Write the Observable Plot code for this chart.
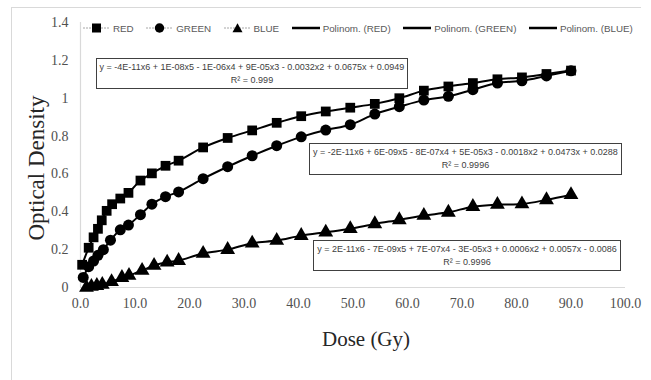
<!DOCTYPE html>
<html>
<head>
<meta charset="utf-8">
<script src="https://cdn.jsdelivr.net/npm/d3@7"></script>
<script src="https://cdn.jsdelivr.net/npm/@observablehq/plot@0.6"></script>
<style>
  html, body { margin: 0; padding: 0; background: #fff; }
  #wrap { position: relative; width: 651px; height: 380px; overflow: hidden; }
  #frame { position: absolute; left: 11px; top: 7px; width: 629px; height: 400px;
           border-top: 1px solid #d9d9d9; border-left: 1px solid #d9d9d9; }
  .legend { position: absolute; left: 83px; top: 22px; display: flex; align-items: center; gap: 12.5px;
            font-family: "Liberation Sans", Arial, sans-serif; font-size: 9.8px; color: #595959; white-space: nowrap; }
  .legend .item { display: flex; align-items: center; gap: 3px; }
  .eq { position: absolute; border: 1.5px solid #404040; background: #fff; box-sizing: border-box;
        font-family: "Liberation Sans", Arial, sans-serif; font-size: 9px; color: #404040;
        text-align: center; line-height: 12.5px; padding-top: 2px; white-space: nowrap; }
  .ytitle { position: absolute; left: 37px; top: 168px; transform: translate(-50%, -50%) rotate(-90deg);
            font-family: "Liberation Serif", "Times New Roman", serif; font-size: 23px; color: #262626; white-space: nowrap; }
  .xtitle { position: absolute; left: 366px; top: 339px; transform: translate(-50%, -50%);
            font-family: "Liberation Serif", "Times New Roman", serif; font-size: 21px; color: #262626; white-space: nowrap; }
  svg.chart text { font-family: "Liberation Serif", "Times New Roman", serif; }
</style>
</head>
<body>
<div id="wrap">
  <div id="frame"></div>
</div>
<script>
// ---- data ----
const seriesNames = ["RED", "GREEN", "BLUE"];
const redDose   = [0.3, 1.5, 2.4, 3.2, 3.9, 4.8, 5.8, 7.3, 8.8, 11, 13.1, 15.6, 18, 22.5, 27, 31.5, 36, 40.5, 45, 49.5, 54, 58.5, 63, 67.5, 72, 76.5, 81, 85.5, 90];
const redOD     = [0.12, 0.21, 0.265, 0.31, 0.355, 0.405, 0.44, 0.47, 0.50, 0.565, 0.603, 0.643, 0.67, 0.74, 0.79, 0.83, 0.87, 0.905, 0.93, 0.95, 0.97, 1.0, 1.04, 1.062, 1.08, 1.10, 1.11, 1.128, 1.146];
const greenDose = [0.5, 1.5, 2.4, 3.2, 4.2, 5.5, 7.3, 8.8, 11, 13.1, 15.6, 18, 22.5, 27, 31.5, 36, 40.5, 45, 49.5, 54, 58.5, 63, 67.5, 72, 76.5, 81, 85.5, 90];
const greenOD   = [0.053, 0.11, 0.14, 0.17, 0.2, 0.25, 0.305, 0.33, 0.385, 0.44, 0.48, 0.505, 0.575, 0.638, 0.696, 0.749, 0.796, 0.832, 0.86, 0.916, 0.955, 0.99, 1.01, 1.045, 1.08, 1.092, 1.118, 1.145];
const blueDose  = [1.1, 2, 3, 4, 5.7, 7.6, 8.9, 11.3, 13.5, 15.9, 18, 22.5, 27, 31.5, 36, 40.5, 45, 49.5, 54, 58.5, 63, 67.5, 72, 76.5, 81, 85.5, 90];
const blueOD    = [0.0, 0.005, 0.01, 0.016, 0.03, 0.052, 0.063, 0.09, 0.116, 0.133, 0.142, 0.18, 0.2, 0.234, 0.248, 0.274, 0.292, 0.31, 0.336, 0.357, 0.38, 0.397, 0.427, 0.438, 0.441, 0.463, 0.49];
const xTickValues = [0, 10, 20, 30, 40, 50, 60, 70, 80, 90, 100];
const xTickLabels = ["0.0", "10.0", "20.0", "30.0", "40.0", "50.0", "60.0", "70.0", "80.0", "90.0", "100.0"];
const yTickValues = [0, 0.2, 0.4, 0.6, 0.8, 1, 1.2, 1.4];
const yTickLabels = ["0", "0.2", "0.4", "0.6", "0.8", "1", "1.2", "1.4"];
const legendLabels = ["RED", "GREEN", "BLUE", "Polinom. (RED)", "Polinom. (GREEN)", "Polinom. (BLUE)"];
const eqLines = [
  ["y = -4E-11x6 + 1E-08x5 - 1E-06x4 + 9E-05x3 - 0.0032x2 + 0.0675x + 0.0949", "R² = 0.999"],
  ["y = -2E-11x6 + 6E-09x5 - 8E-07x4 + 5E-05x3 - 0.0018x2 + 0.0473x + 0.0288", "R² = 0.9996"],
  ["y = 2E-11x6 - 7E-09x5 + 7E-07x4 - 3E-05x3 + 0.0006x2 + 0.0057x - 0.0086", "R² = 0.9996"]
];
const xTitle = "Dose (Gy)";
const yTitle = "Optical Density";

// ---- build table ----
const doses = [redDose, greenDose, blueDose];
const ods = [redOD, greenOD, blueOD];
const rows = [];
seriesNames.forEach((s, k) => doses[k].forEach((d, i) => rows.push({series: s, dose: d, od: ods[k][i]})));

const symbolMap = {domain: seriesNames, range: ["square", "circle", "triangle"]};
const serif = "'Liberation Serif', 'Times New Roman', serif";

const chart = Plot.plot({
  className: "chart",
  width: 651, height: 380,
  marginLeft: 80, marginRight: 26, marginTop: 22, marginBottom: 93,
  style: {background: "transparent"},
  x: {domain: [0, 100]},
  y: {domain: [0, 1.4]},
  symbol: symbolMap,
  marks: [
    Plot.ruleY([0], {stroke: "#d9d9d9", strokeWidth: 1.2}),
    Plot.ruleX([0], {stroke: "#d9d9d9", strokeWidth: 1.2}),
    Plot.axisX({ticks: xTickValues, tickFormat: d => xTickLabels[xTickValues.indexOf(d)], tickSize: 0, tickPadding: 11,
                label: null, fontFamily: serif, fontSize: 14, fill: "#505050"}),
    Plot.axisY({ticks: yTickValues, tickFormat: d => yTickLabels[yTickValues.indexOf(d)], tickSize: 0, tickPadding: 12,
                label: null, fontFamily: serif, fontSize: 14, fill: "#505050"}),
    Plot.line(rows, {x: "dose", y: "od", z: "series", curve: "catmull-rom", stroke: "#000", strokeWidth: 2}),
    Plot.dot(rows, {x: "dose", y: "od", symbol: "series", fill: "#000", stroke: "none", r: 5.5})
  ]
});
const wrap = document.getElementById("wrap");
chart.style.position = "absolute";
chart.style.left = "0px";
chart.style.top = "0px";
wrap.appendChild(chart);

// ---- legend ----
const legend = document.createElement("div");
legend.className = "legend";
const markerSvg = {
  square: '<rect x="9" y="1.5" width="9" height="9" fill="#000"/>',
  circle: '<circle cx="13.5" cy="6" r="4.7" fill="#000"/>',
  triangle: '<path d="M13.5 1.3 L18.5 10.2 L8.5 10.2 Z" fill="#000"/>'
};
legendLabels.forEach((lab, i) => {
  const item = document.createElement("div");
  item.className = "item";
  let sw;
  if (i < 3) {
    const sym = symbolMap.range[i];
    sw = `<svg width="27" height="12"><line x1="0" y1="6" x2="27" y2="6" stroke="#a6a6a6" stroke-width="1" stroke-dasharray="2,1"/>${markerSvg[sym]}</svg>`;
  } else {
    sw = `<svg width="28" height="12"><line x1="0" y1="6" x2="28" y2="6" stroke="#000" stroke-width="2.5"/></svg>`;
  }
  item.innerHTML = sw + `<span>${lab}</span>`;
  legend.appendChild(item);
});
wrap.appendChild(legend);

// ---- equation boxes ----
const eqBoxes = [
  {left: 96, top: 58, width: 312, height: 31},
  {left: 309, top: 143, width: 313, height: 32},
  {left: 313, top: 240, width: 308, height: 31}
];
eqLines.forEach((lines, i) => {
  const b = document.createElement("div");
  b.className = "eq";
  Object.assign(b.style, {left: eqBoxes[i].left + "px", top: eqBoxes[i].top + "px", width: eqBoxes[i].width + "px", height: eqBoxes[i].height + "px"});
  b.innerHTML = lines.map(l => `<div>${l}</div>`).join("");
  wrap.appendChild(b);
});

// ---- axis titles ----
const yt = document.createElement("div");
yt.className = "ytitle"; yt.textContent = yTitle; wrap.appendChild(yt);
const xt = document.createElement("div");
xt.className = "xtitle"; xt.textContent = xTitle; wrap.appendChild(xt);
</script>
</body>
</html>
